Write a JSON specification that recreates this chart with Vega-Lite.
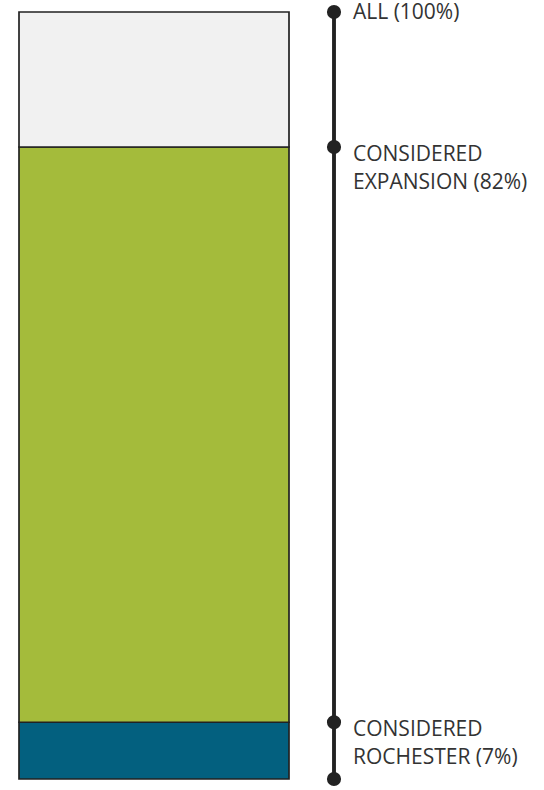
{
  "$schema": "https://vega.github.io/schema/vega-lite/v6.json",
  "padding": {"left": 18, "top": 2, "right": 0, "bottom": 11},
  "background": "white",
  "config": {"view": {"stroke": null}, "font": "Open Sans"},
  "spacing": 36,
  "datasets": {
    "segments": [
      {"segment": "Considered Rochester", "start": 0, "end": 7.4},
      {"segment": "Considered expansion", "start": 7.4, "end": 82.4},
      {"segment": "Did not consider expansion", "start": 82.4, "end": 100}
    ],
    "markers": [
      {"value": 100, "label": ["ALL (100%)"]},
      {"value": 82.4, "label": ["CONSIDERED", "EXPANSION (82%)"]},
      {"value": 7.4, "label": ["CONSIDERED", "ROCHESTER (7%)"]},
      {"value": 0, "label": [""]}
    ]
  },
  "hconcat": [
    {
      "width": 270,
      "height": 767,
      "data": {"name": "segments"},
      "mark": {"type": "bar", "stroke": "#222222", "strokeWidth": 1.7},
      "encoding": {
        "x": {"datum": "All", "type": "nominal", "scale": {"paddingInner": 0, "paddingOuter": 0}, "axis": null},
        "y": {"field": "start", "type": "quantitative", "scale": {"domain": [0, 100], "nice": false}, "axis": null},
        "y2": {"field": "end"},
        "color": {
          "field": "segment",
          "type": "nominal",
          "scale": {
            "domain": ["Considered Rochester", "Considered expansion", "Did not consider expansion"],
            "range": ["#03607f", "#a4bb3b", "#f1f1f1"]
          },
          "legend": null
        }
      }
    },
    {
      "width": 200,
      "height": 767,
      "data": {"name": "markers"},
      "layer": [
        {
          "mark": {"type": "rule", "color": "#222222", "strokeWidth": 3},
          "encoding": {
            "x": {"datum": 0, "type": "quantitative", "scale": {"domain": [0, 1]}, "axis": null},
            "y": {"datum": 0, "type": "quantitative", "scale": {"domain": [0, 100], "nice": false}, "axis": null},
            "y2": {"datum": 100}
          }
        },
        {
          "mark": {"type": "point", "filled": true, "color": "#222222", "size": 200, "opacity": 1},
          "encoding": {
            "x": {"datum": 0, "type": "quantitative"},
            "y": {"field": "value", "type": "quantitative"}
          }
        },
        {
          "transform": [{"filter": "datum.value == 100"}],
          "mark": {"type": "text", "align": "left", "baseline": "middle", "dx": 19, "dy": 1, "fontSize": 21, "color": "#333333"},
          "encoding": {
            "x": {"datum": 0, "type": "quantitative"},
            "y": {"field": "value", "type": "quantitative"},
            "text": {"field": "label"}
          }
        },
        {
          "transform": [{"filter": "datum.value < 100"}],
          "mark": {"type": "text", "align": "left", "baseline": "top", "dx": 19, "dy": -3, "fontSize": 21, "lineHeight": 28, "color": "#333333"},
          "encoding": {
            "x": {"datum": 0, "type": "quantitative"},
            "y": {"field": "value", "type": "quantitative"},
            "text": {"field": "label"}
          }
        }
      ]
    }
  ]
}
